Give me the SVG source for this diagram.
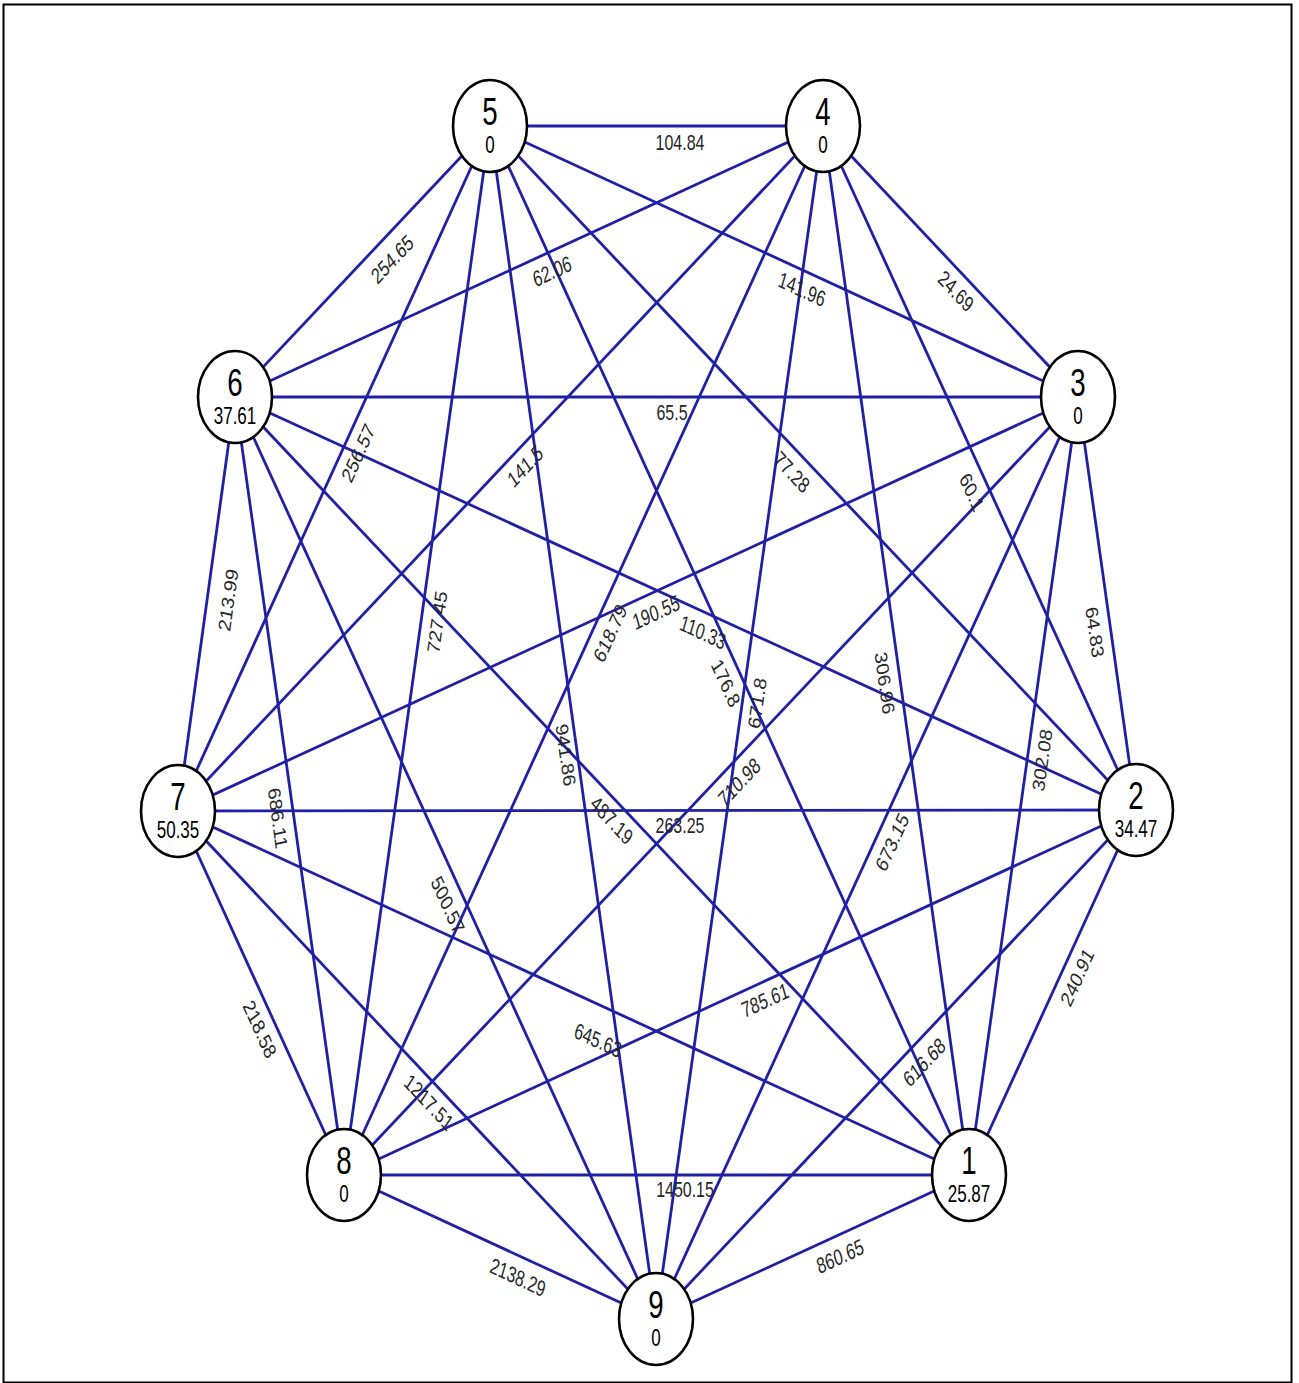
<svg xmlns="http://www.w3.org/2000/svg" width="1299" height="1383" viewBox="0 0 1299 1383">
<style>
.e{stroke:#2020a4;stroke-width:2.8;fill:none}
.n{fill:#fff;stroke:#000;stroke-width:2.6}
.num{font-family:"Liberation Sans",Arial,sans-serif;font-size:39px;fill:#000;text-anchor:middle}
.val{font-family:"Liberation Sans",Arial,sans-serif;font-size:24px;fill:#000;text-anchor:middle}
.l{font-family:"Liberation Sans",Arial,sans-serif;font-size:22.5px;fill:#262626;text-anchor:middle}
</style>
<rect x="0" y="0" width="1299" height="1383" fill="#fff"/>
<rect x="3.5" y="4.5" width="1288" height="1378" fill="none" stroke="#000" stroke-width="2"/>
<g id="connectors">
<line class="e" x1="969" y1="1175" x2="1136" y2="810"/>
<line class="e" x1="969" y1="1175" x2="1078" y2="397"/>
<line class="e" x1="969" y1="1175" x2="823" y2="126"/>
<line class="e" x1="969" y1="1175" x2="490" y2="126"/>
<line class="e" x1="969" y1="1175" x2="235" y2="397"/>
<line class="e" x1="969" y1="1175" x2="178" y2="811"/>
<line class="e" x1="969" y1="1175" x2="344" y2="1175"/>
<line class="e" x1="969" y1="1175" x2="656" y2="1319"/>
<line class="e" x1="1136" y1="810" x2="1078" y2="397"/>
<line class="e" x1="1136" y1="810" x2="823" y2="126"/>
<line class="e" x1="1136" y1="810" x2="490" y2="126"/>
<line class="e" x1="1136" y1="810" x2="235" y2="397"/>
<line class="e" x1="1136" y1="810" x2="178" y2="811"/>
<line class="e" x1="1136" y1="810" x2="344" y2="1175"/>
<line class="e" x1="1136" y1="810" x2="656" y2="1319"/>
<line class="e" x1="1078" y1="397" x2="823" y2="126"/>
<line class="e" x1="1078" y1="397" x2="490" y2="126"/>
<line class="e" x1="1078" y1="397" x2="235" y2="397"/>
<line class="e" x1="1078" y1="397" x2="178" y2="811"/>
<line class="e" x1="1078" y1="397" x2="344" y2="1175"/>
<line class="e" x1="1078" y1="397" x2="656" y2="1319"/>
<line class="e" x1="823" y1="126" x2="490" y2="126"/>
<line class="e" x1="823" y1="126" x2="235" y2="397"/>
<line class="e" x1="823" y1="126" x2="178" y2="811"/>
<line class="e" x1="823" y1="126" x2="344" y2="1175"/>
<line class="e" x1="823" y1="126" x2="656" y2="1319"/>
<line class="e" x1="490" y1="126" x2="235" y2="397"/>
<line class="e" x1="490" y1="126" x2="178" y2="811"/>
<line class="e" x1="490" y1="126" x2="344" y2="1175"/>
<line class="e" x1="490" y1="126" x2="656" y2="1319"/>
<line class="e" x1="235" y1="397" x2="178" y2="811"/>
<line class="e" x1="235" y1="397" x2="344" y2="1175"/>
<line class="e" x1="235" y1="397" x2="656" y2="1319"/>
<line class="e" x1="178" y1="811" x2="344" y2="1175"/>
<line class="e" x1="178" y1="811" x2="656" y2="1319"/>
<line class="e" x1="344" y1="1175" x2="656" y2="1319"/>
</g>
<g id="edge-labels">
<text class="l" dy=".36em" transform="translate(680 142) scale(0.78 1) rotate(0) scale(0.91 1)">104.84</text>
<text class="l" dy=".36em" transform="translate(392 259) scale(0.78 1) rotate(-40) scale(0.91 1)">254.65</text>
<text class="l" dy=".36em" transform="translate(552 271) scale(0.78 1) rotate(-20) scale(0.91 1)">62.06</text>
<text class="l" dy=".36em" transform="translate(802 289) scale(0.78 1) rotate(20) scale(0.91 1)">141.96</text>
<text class="l" dy=".36em" transform="translate(956 291) scale(0.78 1) rotate(40) scale(0.91 1)">24.69</text>
<text class="l" dy=".36em" transform="translate(672 412) scale(0.78 1) rotate(0) scale(0.91 1)">65.5</text>
<text class="l" dy=".36em" transform="translate(358 453) scale(0.78 1) rotate(-60) scale(0.91 1)">256.57</text>
<text class="l" dy=".36em" transform="translate(525 466) scale(0.78 1) rotate(-40) scale(0.91 1)">141.5</text>
<text class="l" dy=".36em" transform="translate(792 472) scale(0.78 1) rotate(40) scale(0.91 1)">77.28</text>
<text class="l" dy=".36em" transform="translate(972 492) scale(0.78 1) rotate(60) scale(0.91 1)">60.1</text>
<text class="l" dy=".36em" transform="translate(1095 632) scale(0.78 1) rotate(80) scale(0.91 1)">64.83</text>
<text class="l" dy=".36em" transform="translate(228 600) scale(0.78 1) rotate(-80) scale(0.91 1)">213.99</text>
<text class="l" dy=".36em" transform="translate(437 622) scale(0.78 1) rotate(-80) scale(0.91 1)">727.45</text>
<text class="l" dy=".36em" transform="translate(610 633) scale(0.78 1) rotate(-60) scale(0.91 1)">618.79</text>
<text class="l" dy=".36em" transform="translate(656 612) scale(0.78 1) rotate(-20) scale(0.91 1)">190.55</text>
<text class="l" dy=".36em" transform="translate(703 632) scale(0.78 1) rotate(20) scale(0.91 1)">110.33</text>
<text class="l" dy=".36em" transform="translate(726 683) scale(0.78 1) rotate(60) scale(0.91 1)">176.8</text>
<text class="l" dy=".36em" transform="translate(757 703) scale(0.78 1) rotate(-80) scale(0.91 1)">671.8</text>
<text class="l" dy=".36em" transform="translate(885 683) scale(0.78 1) rotate(80) scale(0.91 1)">306.96</text>
<text class="l" dy=".36em" transform="translate(1042 760) scale(0.78 1) rotate(-80) scale(0.91 1)">302.08</text>
<text class="l" dy=".36em" transform="translate(278 818) scale(0.78 1) rotate(80) scale(0.91 1)">686.11</text>
<text class="l" dy=".36em" transform="translate(566 755) scale(0.78 1) rotate(80) scale(0.91 1)">941.86</text>
<text class="l" dy=".36em" transform="translate(612 820) scale(0.78 1) rotate(40) scale(0.91 1)">487.19</text>
<text class="l" dy=".36em" transform="translate(680 825) scale(0.78 1) rotate(0) scale(0.91 1)">263.25</text>
<text class="l" dy=".36em" transform="translate(739 782) scale(0.78 1) rotate(-40) scale(0.91 1)">710.98</text>
<text class="l" dy=".36em" transform="translate(892 842) scale(0.78 1) rotate(-60) scale(0.91 1)">673.15</text>
<text class="l" dy=".36em" transform="translate(448 905) scale(0.78 1) rotate(60) scale(0.91 1)">500.57</text>
<text class="l" dy=".36em" transform="translate(598 1040) scale(0.78 1) rotate(20) scale(0.91 1)">645.63</text>
<text class="l" dy=".36em" transform="translate(765 1000) scale(0.78 1) rotate(-20) scale(0.91 1)">785.61</text>
<text class="l" dy=".36em" transform="translate(1077 977) scale(0.78 1) rotate(-60) scale(0.91 1)">240.91</text>
<text class="l" dy=".36em" transform="translate(260 1029) scale(0.78 1) rotate(60) scale(0.91 1)">218.58</text>
<text class="l" dy=".36em" transform="translate(429 1102) scale(0.78 1) rotate(40) scale(0.91 1)">1217.51</text>
<text class="l" dy=".36em" transform="translate(924 1062) scale(0.78 1) rotate(-40) scale(0.91 1)">616.68</text>
<text class="l" dy=".36em" transform="translate(685 1189) scale(0.78 1) rotate(0) scale(0.91 1)">1450.15</text>
<text class="l" dy=".36em" transform="translate(518 1277) scale(0.78 1) rotate(20) scale(0.91 1)">2138.29</text>
<text class="l" dy=".36em" transform="translate(840 1256) scale(0.78 1) rotate(-20) scale(0.91 1)">860.65</text>
</g>
<g id="node1" transform="translate(969 1175)"><ellipse class="n" rx="37" ry="46"/><g transform="scale(0.71 1)"><text class="num" y="-1">1</text><text class="val" y="27">25.87</text></g></g>
<g id="node2" transform="translate(1136 810)"><ellipse class="n" rx="37" ry="46"/><g transform="scale(0.71 1)"><text class="num" y="-1">2</text><text class="val" y="27">34.47</text></g></g>
<g id="node3" transform="translate(1078 397)"><ellipse class="n" rx="37" ry="46"/><g transform="scale(0.71 1)"><text class="num" y="-1">3</text><text class="val" y="27">0</text></g></g>
<g id="node4" transform="translate(823 126)"><ellipse class="n" rx="37" ry="46"/><g transform="scale(0.71 1)"><text class="num" y="-1">4</text><text class="val" y="27">0</text></g></g>
<g id="node5" transform="translate(490 126)"><ellipse class="n" rx="37" ry="46"/><g transform="scale(0.71 1)"><text class="num" y="-1">5</text><text class="val" y="27">0</text></g></g>
<g id="node6" transform="translate(235 397)"><ellipse class="n" rx="37" ry="46"/><g transform="scale(0.71 1)"><text class="num" y="-1">6</text><text class="val" y="27">37.61</text></g></g>
<g id="node7" transform="translate(178 811)"><ellipse class="n" rx="37" ry="46"/><g transform="scale(0.71 1)"><text class="num" y="-1">7</text><text class="val" y="27">50.35</text></g></g>
<g id="node8" transform="translate(344 1175)"><ellipse class="n" rx="37" ry="46"/><g transform="scale(0.71 1)"><text class="num" y="-1">8</text><text class="val" y="27">0</text></g></g>
<g id="node9" transform="translate(656 1319)"><ellipse class="n" rx="37" ry="46"/><g transform="scale(0.71 1)"><text class="num" y="-1">9</text><text class="val" y="27">0</text></g></g>
</svg>
